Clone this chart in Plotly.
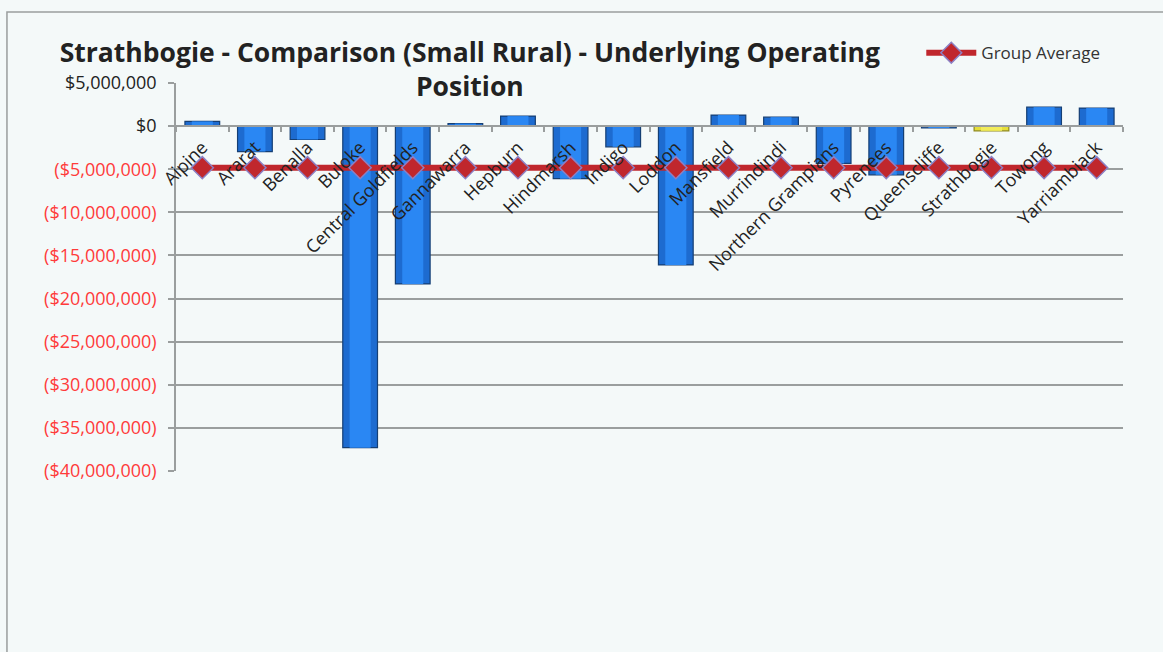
import plotly.graph_objects as go

# Councils in the Small Rural comparison group
councils = [
    "Alpine", "Ararat", "Benalla", "Buloke", "Central Goldfields", "Gannawarra",
    "Hepburn", "Hindmarsh", "Indigo", "Loddon", "Mansfield", "Murrindindi",
    "Northern Grampians", "Pyrenees", "Queenscliffe", "Strathbogie", "Towong",
    "Yarriambiack",
]

# Underlying operating position ($)
operating_position = [
    550_000, -2_950_000, -1_550_000, -37_300_000, -18_300_000, 300_000,
    1_160_000, -6_100_000, -2_400_000, -16_100_000, 1_280_000, 1_040_000,
    -4_330_000, -5_650_000, -200_000, -550_000, 2_200_000, 2_090_000,
]

# Group average across all councils ($)
group_average = [
    -4_820_000, -4_820_000, -4_820_000, -4_820_000, -4_820_000, -4_820_000,
    -4_820_000, -4_820_000, -4_820_000, -4_820_000, -4_820_000, -4_820_000,
    -4_820_000, -4_820_000, -4_820_000, -4_820_000, -4_820_000, -4_820_000,
]

highlight = "Strathbogie"

pos_ticks = [5_000_000, 0]
pos_labels = ["$5,000,000", "$0"]
neg_ticks = [-5_000_000, -10_000_000, -15_000_000, -20_000_000, -25_000_000,
             -30_000_000, -35_000_000, -40_000_000]
neg_labels = ["($5,000,000)", "($10,000,000)", "($15,000,000)", "($20,000,000)",
              "($25,000,000)", "($30,000,000)", "($35,000,000)", "($40,000,000)"]

Y_MIN, Y_MAX = -40_000_000, 5_000_000
FONT = "Open Sans"
GRID = "#9a9e9e"
BG = "#f4f9f9"

bar_fill = ["#e6df3a" if c == highlight else "#1d6bd0" for c in councils]
bar_edge = ["#8f891c" if c == highlight else "#153f74" for c in councils]
bar_core = ["#f2ec5a" if c == highlight else "#2a87f3" for c in councils]

fig = go.Figure()

fig.add_trace(go.Bar(
    x=councils, y=operating_position, width=0.66,
    marker=dict(color=bar_fill, line=dict(color=bar_edge, width=1.2)),
    showlegend=False, hoverinfo="x+y",
))
# lighter centre strip for the bevelled look
fig.add_trace(go.Bar(
    x=councils, y=operating_position, width=0.40,
    marker=dict(color=bar_core, line=dict(width=0)),
    showlegend=False, hoverinfo="skip",
))

fig.add_trace(go.Scatter(
    x=councils, y=group_average, yaxis="y2",
    mode="lines+markers", name="Group Average",
    line=dict(color="#c0272d", width=6),
    marker=dict(symbol="diamond", size=17, color="#c0272d",
                line=dict(color="#8c80c4", width=1.5)),
))

zero_pos = (0 - Y_MIN) / (Y_MAX - Y_MIN)

fig.update_layout(
    width=1163, height=652,
    margin=dict(l=176, r=40, t=83, b=181),
    paper_bgcolor=BG, plot_bgcolor=BG,
    barmode="overlay",
    font=dict(family=FONT, color="#222222"),
    title=dict(
        text="<b>Strathbogie - Comparison (Small Rural) - Underlying Operating<br>Position</b>",
        x=0.404, xref="container", xanchor="center",
        y=0.905, yref="container", yanchor="middle",
        font=dict(family=FONT, size=26.5, color="#222222"),
    ),
    legend=dict(
        x=0.787, y=1.077, xref="paper", yref="paper",
        xanchor="left", yanchor="middle",
        bgcolor="rgba(0,0,0,0)", font=dict(size=17, color="#333333"),
        itemwidth=50,
    ),
    xaxis=dict(
        type="category", categoryorder="array", categoryarray=councils,
        range=[-0.5, len(councils) - 0.5],
        anchor="free", position=zero_pos,
        showline=True, linecolor=GRID, linewidth=1.5,
        ticks="outside", tickson="boundaries", ticklen=5, tickcolor=GRID, tickwidth=1.5,
        tickangle=-45, ticklabelstandoff=3,
        tickfont=dict(size=18, color="#222222"),
        showgrid=False, zeroline=False,
    ),
    yaxis=dict(
        range=[Y_MIN, Y_MAX], tickmode="array",
        tickvals=pos_ticks, ticktext=pos_labels,
        tickfont=dict(size=18, color="#222222"),
        showgrid=True, gridcolor=GRID, gridwidth=1.5,
        showline=True, linecolor=GRID, linewidth=1.5,
        ticks="outside", ticklen=6, tickcolor=GRID, tickwidth=1.5,
        ticklabelstandoff=8, zeroline=False,
    ),
    yaxis2=dict(
        range=[Y_MIN, Y_MAX], overlaying="y", side="left",
        tickmode="array", tickvals=neg_ticks, ticktext=neg_labels,
        tickfont=dict(size=18, color="#ff3b3b"),
        showgrid=True, gridcolor=GRID, gridwidth=1.5,
        showline=True, linecolor=GRID, linewidth=1.5,
        ticks="outside", ticklen=6, tickcolor=GRID, tickwidth=1.5,
        ticklabelstandoff=8, zeroline=False,
    ),
    shapes=[dict(
        type="rect", xref="paper", yref="paper",
        x0=-0.1785, x1=1.06, y0=-0.5, y1=1.183,
        line=dict(color="#9a9e9e", width=1.5), fillcolor="rgba(0,0,0,0)",
        layer="below",
    )],
)

fig.write_html("out.html")
